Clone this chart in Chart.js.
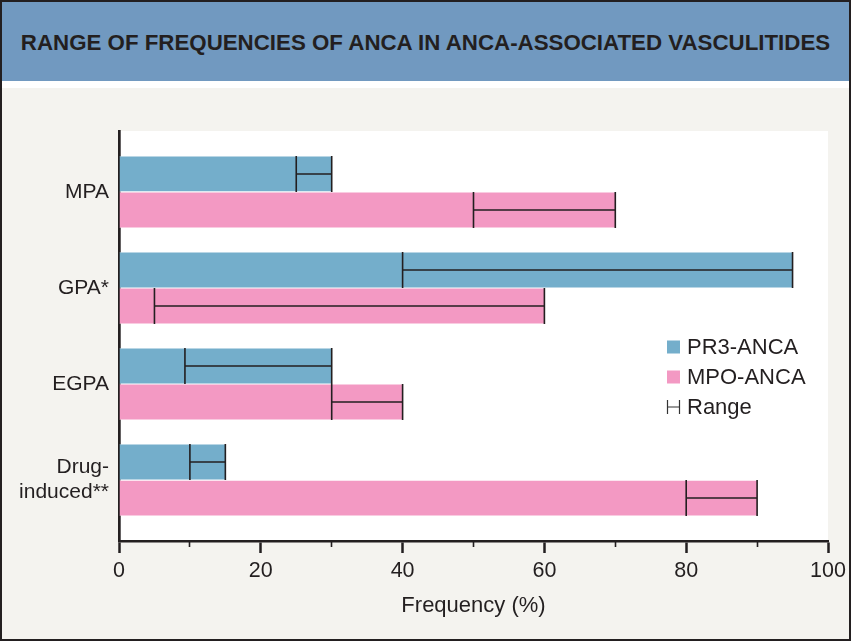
<!DOCTYPE html>
<html><head><meta charset="utf-8">
<script src="https://cdn.jsdelivr.net/npm/chart.js@4.4.1/dist/chart.umd.min.js"></script>
<style>
html,body{margin:0;padding:0;background:#fff;}
#wrap{position:relative;width:851px;height:641px;background:#f4f3ef;overflow:hidden;font-family:"Liberation Sans",Arial,sans-serif;}
#header{position:absolute;left:0;top:0;width:851px;height:81px;background:#7199c0;}
#strip{position:absolute;left:0;top:81px;width:851px;height:7px;background:#fff;}
#title{position:absolute;left:0;top:32px;width:851px;text-align:center;font-weight:bold;font-size:22.3px;line-height:22.3px;color:#231f20;white-space:nowrap;}
#cv{position:absolute;left:0;top:88px;width:851px;height:553px;}
#frame{position:absolute;left:0;top:0;width:851px;height:641px;box-sizing:border-box;border:2px solid #231f20;pointer-events:none;}
</style></head>
<body><div id="wrap">
<div id="header"></div><div id="strip"></div>
<div id="title">RANGE OF FREQUENCIES OF ANCA IN ANCA-ASSOCIATED VASCULITIDES</div>
<div id="cv"><canvas id="chart"></canvas></div>
<div id="frame"></div>
</div>
<script>
// ---- data ----
const categories = ["MPA", "GPA*", "EGPA", ["Drug-", "induced**"]];
const seriesNames = ["PR3-ANCA", "MPO-ANCA"];
const rangeLabel = "Range";
const pr3Min = [25, 40, 9.3, 10];
const pr3Max = [30, 95, 30, 15];
const mpoMin = [50, 5, 30, 80];
const mpoMax = [70, 60, 40, 90];
const xTickValues = [0, 20, 40, 60, 80, 100];
const xTitle = "Frequency (%)";

const colors = ["#74aecb", "#f399c3"];
const ink = "#231f20";
const FONT = '"Liberation Sans", Arial, sans-serif';

function pts(arr) { return arr.map((v, i) => ({x: v, y: i})); }

const rangeMins = [pr3Min, mpoMin];
const rangeMaxs = [pr3Max, mpoMax];

const bgPlugin = {
  id: 'plotBg',
  beforeDraw(chart) {
    const {ctx, chartArea: a} = chart;
    ctx.save();
    ctx.fillStyle = '#ffffff';
    ctx.fillRect(a.left, a.top, a.right - a.left, a.bottom - a.top);
    ctx.restore();
  }
};

const rangePlugin = {
  id: 'rangeBars',
  afterDatasetsDraw(chart) {
    const {ctx} = chart;
    const xs = chart.scales.x;
    ctx.save();
    ctx.strokeStyle = ink;
    ctx.lineWidth = 1.6;
    chart.data.datasets.forEach((ds, di) => {
      const meta = chart.getDatasetMeta(di);
      meta.data.forEach((bar, j) => {
        const h = bar.height;
        const y = bar.y;
        const x1 = xs.getPixelForValue(rangeMins[di][j]);
        const x2 = xs.getPixelForValue(rangeMaxs[di][j]);
        ctx.beginPath();
        ctx.moveTo(x1, y - h / 2); ctx.lineTo(x1, y + h / 2);
        ctx.moveTo(x2, y - h / 2); ctx.lineTo(x2, y + h / 2);
        ctx.moveTo(x1, y); ctx.lineTo(x2, y);
        ctx.stroke();
      });
    });
    ctx.restore();
  }
};

const legendPlugin = {
  id: 'innerLegend',
  afterDraw(chart) {
    const {ctx, chartArea: a} = chart;
    const x0 = a.right - 161;
    const y0 = a.top + 216;
    const step = 30;
    ctx.save();
    ctx.font = '22px ' + FONT;
    ctx.textBaseline = 'middle';
    ctx.textAlign = 'left';
    chart.data.datasets.forEach((ds, i) => {
      const cy = y0 + i * step;
      ctx.fillStyle = ds.backgroundColor;
      ctx.fillRect(x0, cy - 6.5, 13, 13);
      ctx.fillStyle = ink;
      ctx.fillText(ds.label, x0 + 20, cy + 1);
    });
    const cy = y0 + 2 * step;
    ctx.strokeStyle = '#333';
    ctx.lineWidth = 1.2;
    ctx.beginPath();
    ctx.moveTo(x0 + 0.5, cy - 7); ctx.lineTo(x0 + 0.5, cy + 7);
    ctx.moveTo(x0 + 12.5, cy - 7); ctx.lineTo(x0 + 12.5, cy + 7);
    ctx.moveTo(x0 + 0.5, cy); ctx.lineTo(x0 + 12.5, cy);
    ctx.stroke();
    ctx.fillStyle = ink;
    ctx.fillText(rangeLabel, x0 + 20, cy + 1);
    ctx.restore();
  }
};

new Chart(document.getElementById('chart'), {
  type: 'bar',
  data: {
    datasets: [
      {label: seriesNames[0], data: pts(pr3Max), backgroundColor: colors[0],
       borderWidth: {top: 0.6, bottom: 0.6, left: 0, right: 0}, borderColor: 'rgba(255,255,255,0.8)', borderSkipped: false},
      {label: seriesNames[1], data: pts(mpoMax), backgroundColor: colors[1],
       borderWidth: {top: 0.6, bottom: 0.6, left: 0, right: 0}, borderColor: 'rgba(255,255,255,0.8)', borderSkipped: false}
    ]
  },
  options: {
    indexAxis: 'y',
    responsive: true,
    maintainAspectRatio: false,
    animation: false,
    devicePixelRatio: 1,
    categoryPercentage: 0.75,
    barPercentage: 1,
    layout: {padding: {top: 43, right: 23, left: 0, bottom: 0}},
    plugins: {legend: {display: false}, tooltip: {enabled: false}, title: {display: false}},
    scales: {
      y: {
        type: 'linear',
        reverse: true,
        offset: false,
        min: -0.635,
        max: 3.635,
        afterBuildTicks: (s) => { s.ticks = categories.map((c, i) => ({value: i})); },
        afterFit: (s) => { s.width = 119; },
        grid: {display: false, drawTicks: false, offset: false},
        border: {display: true, color: ink, width: 2.7},
        ticks: {
          padding: 10,
          color: ink,
          font: {family: FONT, size: 21, lineHeight: 1.2},
          callback: (v) => categories[v]
        }
      },
      x: {
        type: 'linear',
        position: 'bottom',
        weight: 1,
        min: 0,
        max: 100,
        afterBuildTicks: (s) => { s.ticks = xTickValues.map(v => ({value: v})); },
        afterFit: (s) => { s.height = 100; },
        grid: {display: true, drawOnChartArea: false, drawTicks: true, tickLength: 12, tickWidth: 2.5, tickColor: ink},
        border: {display: true, color: ink, width: 2.5},
        ticks: {padding: 5, color: ink, font: {family: FONT, size: 21.5, lineHeight: 1.2}, maxRotation: 0},
        title: {display: true, text: xTitle, color: ink, font: {family: FONT, size: 22, lineHeight: 1.2}, padding: {top: 0, bottom: 22}}
      },
      x2: {
        type: 'linear',
        position: 'bottom',
        axis: 'x',
        weight: 0,
        min: 0,
        max: 100,
        afterBuildTicks: (s) => {
          const t = [];
          for (let i = 0; i < xTickValues.length - 1; i++) t.push({value: (xTickValues[i] + xTickValues[i + 1]) / 2});
          s.ticks = t;
        },
        afterFit: (s) => { s.height = 0; },
        grid: {display: true, drawOnChartArea: false, drawTicks: true, tickLength: 6, tickWidth: 1.6, tickColor: ink},
        border: {display: false},
        ticks: {display: false}
      }
    }
  },
  plugins: [bgPlugin, rangePlugin, legendPlugin]
});
</script>
</body></html>
